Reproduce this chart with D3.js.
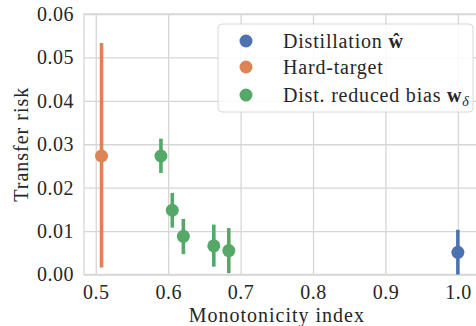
<!DOCTYPE html>
<html>
<head>
<meta charset="utf-8">
<script src="https://cdn.jsdelivr.net/npm/d3@7"></script>
</head>
<body style="margin:0">
<script>
// series: monotonicity index, transfer risk, error bar low/high
const seriesNames = ['Distillation', 'Hard-target', 'Dist. reduced bias'];
const seriesColors = ['#4c72b0', '#dd8452', '#55a868'];

const distX = [1.0];
const distY = [0.0051];
const distLo = [0.0];
const distHi = [0.0103];

const hardX = [0.508];
const hardY = [0.0273];
const hardLo = [0.0016];
const hardHi = [0.0533];

const biasX = [0.590, 0.6057, 0.621, 0.663, 0.6837];
const biasY = [0.0273, 0.0148, 0.0088, 0.0066, 0.0055];
const biasLo = [0.0234, 0.0108, 0.0047, 0.0018, 0.0003];
const biasHi = [0.0313, 0.0188, 0.0128, 0.0115, 0.0107];

const xTicks = [0.5, 0.6, 0.7, 0.8, 0.9, 1.0];
const yTicks = [0.00, 0.01, 0.02, 0.03, 0.04, 0.05, 0.06];

const FONT = "'Liberation Serif', 'Times New Roman', serif";
const TEXT = '#262626';
const GRID = '#d6d6d6';

const W = 476, H = 326;
const margin = { top: 14, right: -1, bottom: 51.5, left: 84 };
const width = W - margin.left - margin.right;
const height = H - margin.top - margin.bottom;

const svg = d3.select('body').append('svg')
  .attr('width', W)
  .attr('height', H)
  .style('font-family', FONT, 'important');

const chart = svg.append('g')
  .attr('transform', `translate(${margin.left}, ${margin.top})`);

const xScale = d3.scaleLinear().domain([0.4838, 1.0264]).range([0, width]);
const yScale = d3.scaleLinear().domain([0, 0.06]).range([height, 0]);

// grid
chart.append('g')
  .attr('transform', `translate(0, ${height})`)
  .call(d3.axisBottom(xScale).tickValues(xTicks).tickSize(-height).tickFormat(''))
  .call(g => g.select('.domain').remove())
  .call(g => g.selectAll('line').attr('stroke', GRID).attr('stroke-width', 1.3));

chart.append('g')
  .call(d3.axisLeft(yScale).tickValues(yTicks).tickSize(-width).tickFormat(''))
  .call(g => g.select('.domain').remove())
  .call(g => g.selectAll('line').attr('stroke', GRID).attr('stroke-width', 1.3));

// frame
chart.append('rect')
  .attr('x', 0).attr('y', 0)
  .attr('width', width).attr('height', height)
  .attr('fill', 'none')
  .attr('stroke', GRID)
  .attr('stroke-width', 1.3);

// tick labels
const xAxis = chart.append('g')
  .attr('transform', `translate(0, ${height})`)
  .call(d3.axisBottom(xScale).tickValues(xTicks).tickSize(0).tickPadding(10).tickFormat(d3.format('.1f')));
xAxis.select('.domain').remove();
xAxis.selectAll('text').attr('letter-spacing', 0.5).attr('font-size', 20);

const yAxis = chart.append('g')
  .call(d3.axisLeft(yScale).tickValues(yTicks).tickSize(0).tickPadding(10).tickFormat(d3.format('.2f')));
yAxis.select('.domain').remove();
yAxis.selectAll('text').attr('letter-spacing', 0.5).attr('font-size', 20);

// axis titles
svg.append('text')
  .attr('x', margin.left + xScale(0.75))
  .attr('y', 322)
  .attr('text-anchor', 'middle')
  .attr('letter-spacing', 1)
  .attr('font-size', 20)
  .text('Monotonicity index');

svg.append('text')
  .attr('transform', `translate(28, ${margin.top + yScale(0.03)}) rotate(-90)`)
  .attr('text-anchor', 'middle')
  .attr('letter-spacing', 1)
  .attr('font-size', 20)
  .text('Transfer risk');

// error bars and points
function drawSeries(xs, ys, lo, hi, color) {
  const data = xs.map((x, i) => ({ x: x, y: ys[i], lo: lo[i], hi: hi[i] }));
  const g = chart.append('g');
  g.selectAll('line')
    .data(data)
    .enter()
    .append('line')
    .attr('x1', d => xScale(d.x))
    .attr('x2', d => xScale(d.x))
    .attr('y1', d => yScale(d.lo))
    .attr('y2', d => yScale(d.hi))
    .attr('stroke', color)
    .attr('stroke-width', 3.6);
  g.selectAll('circle')
    .data(data)
    .enter()
    .append('circle')
    .attr('cx', d => xScale(d.x))
    .attr('cy', d => yScale(d.y))
    .attr('r', 6.5)
    .attr('fill', color);
}

drawSeries(distX, distY, distLo, distHi, seriesColors[0]);
drawSeries(hardX, hardY, hardLo, hardHi, seriesColors[1]);
drawSeries(biasX, biasY, biasLo, biasHi, seriesColors[2]);

// legend
const legend = svg.append('g').attr('transform', 'translate(218, 24)');
legend.append('rect')
  .attr('width', 255).attr('height', 88)
  .attr('rx', 4)
  .attr('fill', '#fff').attr('fill-opacity', 0.85)
  .attr('stroke', '#d8d8d8').attr('stroke-width', 1);

const rowY = [17, 43, 71];
seriesNames.forEach((name, i) => {
  legend.append('circle')
    .attr('cx', 28).attr('cy', rowY[i])
    .attr('r', 6.5)
    .attr('fill', seriesColors[i]);
  const t = legend.append('text')
    .attr('x', 65).attr('y', rowY[i] + 7)
    .attr('letter-spacing', 0.8)
    .attr('font-size', 20);
  t.append('tspan').text(name);
  if (i === 0) {
    t.append('tspan').attr('font-weight', 'bold').text(' ŵ');
  } else if (i === 2) {
    t.append('tspan').attr('font-weight', 'bold').text(' w');
    t.append('tspan').attr('font-style', 'italic').attr('font-size', 14).attr('dy', 4).text('δ');
  }
});

// serif font forced inline on each text element
svg.selectAll('text, tspan')
  .style('font-family', FONT, 'important')
  .attr('fill', TEXT);
</script>
</body>
</html>
